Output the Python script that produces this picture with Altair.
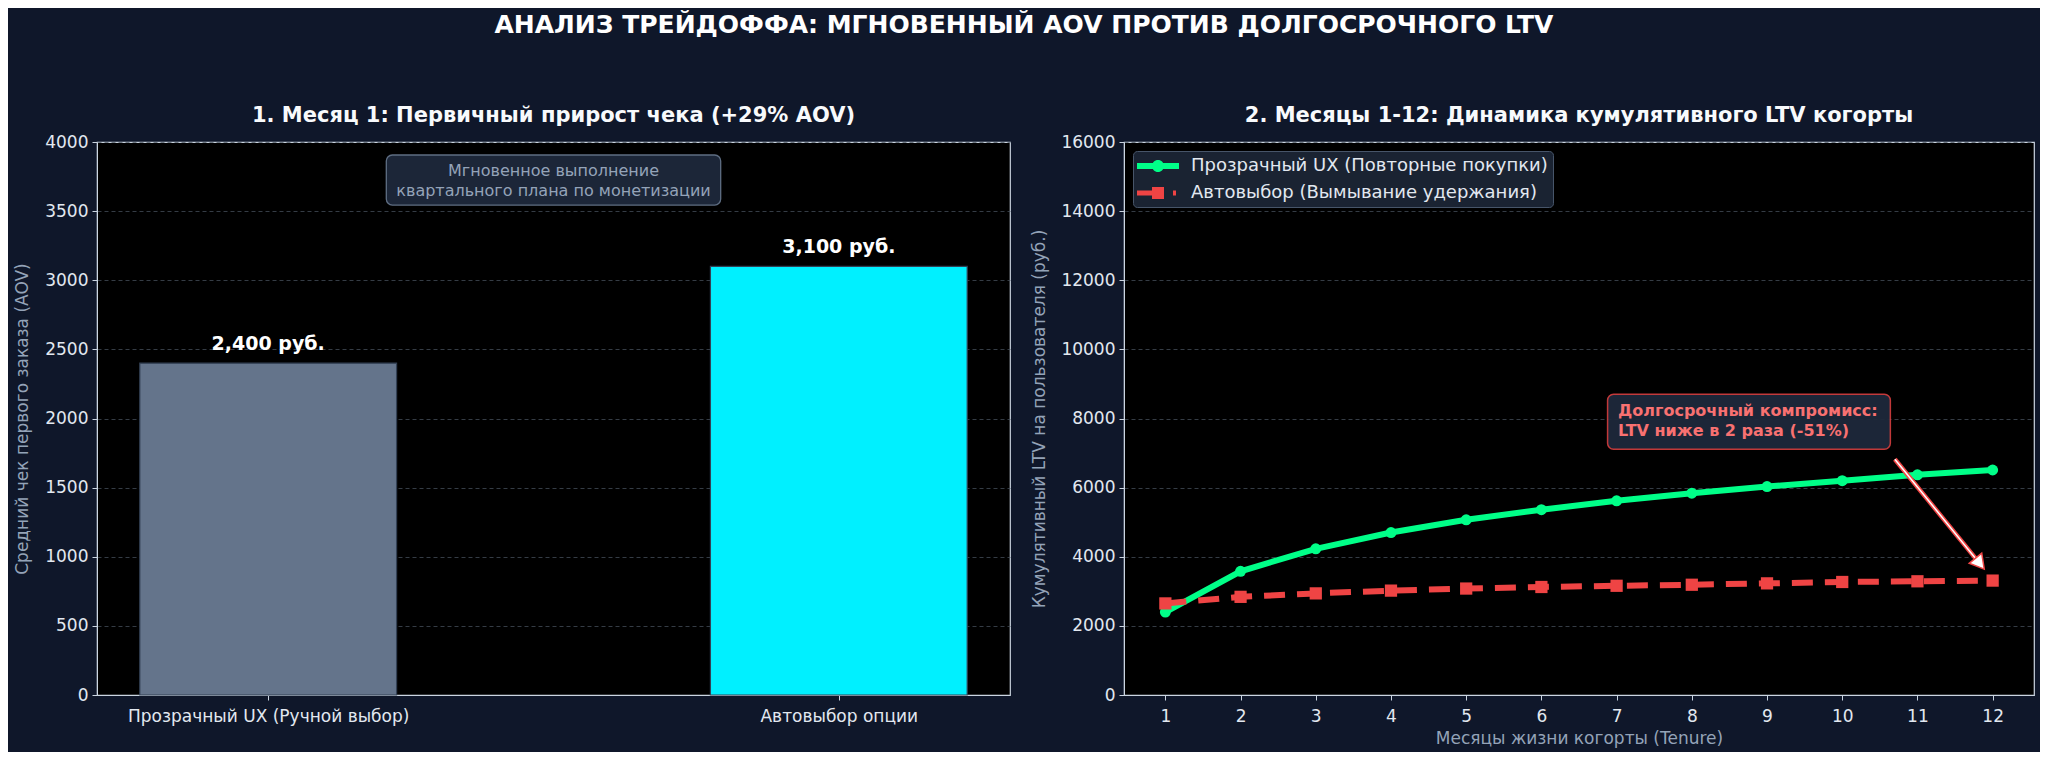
import json
import altair as alt
import pandas as pd

# ---------------- data ----------------
categories = ["Прозрачный UX (Ручной выбор)", "Автовыбор опции"]
aov_values = [2400, 3100]
aov_labels = ["2,400 руб.", "3,100 руб."]

months = list(range(1, 13))
series_names = ["Прозрачный UX (Повторные покупки)", "Автовыбор (Вымывание удержания)"]
ltv_transparent = [2400, 3580, 4230, 4700, 5070, 5360, 5620, 5840, 6030, 6200, 6370, 6510]
ltv_auto = [2650, 2840, 2940, 3020, 3080, 3125, 3160, 3190, 3230, 3270, 3290, 3310]

left_note = "Мгновенное выполнение\nквартального плана по монетизации"
right_note = "Долгосрочный компромисс:\nLTV ниже в 2 раза (-51%)"

main_title = "АНАЛИЗ ТРЕЙДОФФА: МГНОВЕННЫЙ AOV ПРОТИВ ДОЛГОСРОЧНОГО LTV"
left_title = "1. Месяц 1: Первичный прирост чека (+29% AOV)"
right_title = "2. Месяцы 1-12: Динамика кумулятивного LTV когорты"

# ---------------- styles ----------------
FONT = "DejaVu Sans"
BG = "#0f172a"
GREEN = "#00ff88"
RED = "#ef4444"
BAR_COLORS = ["#64748b", "#00f0ff"]

bar_df = pd.DataFrame({"category": categories, "aov": aov_values,
                       "label": aov_labels, "idx": [0, 1]})

ltv_df = pd.DataFrame({
    "month": months * 2,
    "ltv": ltv_transparent + ltv_auto,
    "series": [series_names[0]] * len(months) + [series_names[1]] * len(months),
})

# ---------------- left panel ----------------
x_left = alt.Scale(domain=[-0.3, 1.3], nice=False, zero=False)
y_left = alt.Scale(domain=[0, 4000], nice=False)
yl_title = "Средний чек первого заказа (AOV)"

bars = alt.Chart(bar_df).transform_calculate(
    x0="datum.idx - 0.225", x1="datum.idx + 0.225"
).mark_bar(stroke="#334155", strokeWidth=1.2, opacity=1).encode(
    x=alt.X("x0:Q", scale=x_left, title=None,
            axis=alt.Axis(values=[0, 1], grid=False, labelLimit=600, labelPadding=8,
                          labelExpr=f"{json.dumps(categories, ensure_ascii=False)}[datum.value]")),
    x2="x1:Q",
    y=alt.Y("aov:Q", scale=y_left, title=yl_title,
            axis=alt.Axis(values=list(range(0, 4001, 500)), format="d", titlePadding=13)),
    y2=alt.datum(0),
    color=alt.Color("category:N", scale=alt.Scale(domain=categories, range=BAR_COLORS), legend=None),
)

bar_text = alt.Chart(bar_df).mark_text(
    font=FONT, fontSize=19, fontWeight="bold", color="white", baseline="alphabetic", dy=-13
).encode(
    x=alt.X("idx:Q", scale=x_left, title=None),
    y=alt.Y("aov:Q", scale=y_left, title=yl_title),
    text="label:N",
)

note_l = pd.DataFrame({"x0": [0.207], "x1": [0.793], "y0": [3544], "y1": [3906],
                       "tx": [0.5], "ty": [3790], "text": [left_note]})
note_box_l = alt.Chart(note_l).mark_rect(
    fill="#1e293b", stroke="#64748b", strokeWidth=1.3, cornerRadius=6, opacity=0.95
).encode(
    x=alt.X("x0:Q", scale=x_left, title=None), x2="x1:Q",
    y=alt.Y("y0:Q", scale=y_left, title=yl_title), y2="y1:Q",
)
note_text_l = alt.Chart(note_l).mark_text(
    font=FONT, fontSize=16, color="#94a3b8", align="center", baseline="middle",
    lineBreak="\n", lineHeight=20
).encode(
    x=alt.X("tx:Q", scale=x_left, title=None),
    y=alt.Y("ty:Q", scale=y_left, title=yl_title),
    text="text:N",
)

left = alt.layer(bars, bar_text, note_box_l, note_text_l).properties(
    width=913, height=553,
    title=alt.TitleParams(left_title, font=FONT, fontSize=21, fontWeight="bold",
                          color="#f8fafc", anchor="middle", frame="group", offset=7),
)

# ---------------- right panel ----------------
x_right = alt.Scale(domain=[0.45, 12.55], nice=False, zero=False)
y_right = alt.Scale(domain=[0, 16000], nice=False)
x_title = "Месяцы жизни когорты (Tenure)"
y_title = "Кумулятивный LTV на пользователя (руб.)"

# legend symbols: line + marker glyphs
green_path = "M-2.1,-0.3H2.1V0.3H-2.1Z M0.6,0A0.6,0.6,0,1,1,-0.6,0A0.6,0.6,0,1,1,0.6,0Z"
red_path = "M-2.1,-0.25H-0.6V0.25H-2.1Z M-0.6,-0.6H0.6V0.6H-0.6Z M1.5,-0.25H1.8V0.25H1.5Z"

legend = alt.Legend(
    title=None, orient="top-left", offset=9, padding=5, symbolOffset=10,
    symbolSize=400, labelOffset=23, rowPadding=8, labelLimit=600,
    labelFont=FONT, labelFontSize=18, labelColor="#e2e8f0",
    fillColor="rgba(30,41,59,0.85)", strokeColor="#475569", cornerRadius=4,
    symbolStrokeWidth=0, symbolOpacity=1,
)

x_enc = alt.X("month:Q", scale=x_right, title=x_title,
              axis=alt.Axis(values=months, grid=False, format="d", titlePadding=6, labelPadding=8))
y_enc = alt.Y("ltv:Q", scale=y_right, title=y_title,
              axis=alt.Axis(values=list(range(0, 16001, 2000)), format="d", titlePadding=12))
x_plain = alt.X("month:Q", scale=x_right, title=x_title)
y_plain = alt.Y("ltv:Q", scale=y_right, title=y_title)

base_g = alt.Chart(ltv_df).transform_filter(alt.datum.series == series_names[0])
base_r = alt.Chart(ltv_df).transform_filter(alt.datum.series == series_names[1])

line_g = base_g.mark_line(strokeWidth=6, color=GREEN).encode(x=x_enc, y=y_enc)
line_r = base_r.mark_line(strokeWidth=6, color=RED, strokeDash=[21, 12]).encode(x=x_plain, y=y_plain)
pts_g = base_g.mark_point(filled=True, opacity=1, size=120, shape="circle", color=GREEN).encode(
    x=x_plain, y=y_plain)
pts_r = base_r.mark_point(filled=True, opacity=1, size=150, shape="square", color=RED).encode(
    x=x_plain, y=y_plain)

legend_layer = alt.Chart(ltv_df).transform_filter("false").mark_point(
    filled=True, opacity=1, size=400
).encode(
    x=x_plain, y=y_plain,
    color=alt.Color("series:N", scale=alt.Scale(domain=series_names, range=[GREEN, RED]), legend=legend),
    shape=alt.Shape("series:N", scale=alt.Scale(domain=series_names, range=[green_path, red_path]),
                    legend=legend),
)

note_r = pd.DataFrame({"x0": [6.88], "x1": [10.64], "y0": [7110], "y1": [8700],
                       "tx": [7.02], "ty": [8210], "text": [right_note]})
note_box_r = alt.Chart(note_r).mark_rect(
    fill="#1e293b", stroke=RED, strokeWidth=1.5, cornerRadius=6, opacity=0.95, strokeOpacity=0.85
).encode(
    x=alt.X("x0:Q", scale=x_right, title=x_title), x2="x1:Q",
    y=alt.Y("y0:Q", scale=y_right, title=y_title), y2="y1:Q",
)
note_text_r = alt.Chart(note_r).mark_text(
    font=FONT, fontSize=16, fontWeight="bold", color="#f87171", align="left", baseline="middle",
    lineBreak="\n", lineHeight=20
).encode(
    x=alt.X("tx:Q", scale=x_right, title=x_title),
    y=alt.Y("ty:Q", scale=y_right, title=y_title),
    text="text:N",
)

arrow = pd.DataFrame({"x": [10.7], "y": [6820], "x2": [11.83], "y2": [3800]})
arrow_outer = alt.Chart(arrow).mark_rule(color=RED, strokeWidth=4.5).encode(
    x=alt.X("x:Q", scale=x_right, title=x_title), x2="x2:Q",
    y=alt.Y("y:Q", scale=y_right, title=y_title), y2="y2:Q",
)
arrow_inner = alt.Chart(arrow).mark_rule(color="white", strokeWidth=1.5).encode(
    x=alt.X("x:Q", scale=x_right, title=x_title), x2="x2:Q",
    y=alt.Y("y:Q", scale=y_right, title=y_title), y2="y2:Q",
)
arrow_head = alt.Chart(arrow).mark_point(
    shape="triangle-up", filled=True, fill="white", stroke=RED, strokeWidth=1.5,
    size=260, angle=141, opacity=1
).encode(
    x=alt.X("x2:Q", scale=x_right, title=x_title),
    y=alt.Y("y2:Q", scale=y_right, title=y_title),
)

right = alt.layer(line_g, line_r, pts_g, pts_r, legend_layer, note_box_r, note_text_r,
                  arrow_outer, arrow_inner, arrow_head).properties(
    width=910, height=553,
    title=alt.TitleParams(right_title, font=FONT, fontSize=21, fontWeight="bold",
                          color="#f8fafc", anchor="middle", frame="group", offset=7),
)

chart = alt.hconcat(left, right, spacing=19).properties(
    title=alt.TitleParams(main_title, font=FONT, fontSize=25, fontWeight="bold",
                          color="white", anchor="middle", offset=66),
).configure(background=BG, font=FONT).configure_view(
    fill="#000000", stroke="#cbd5e1", strokeWidth=1.2
).configure_axis(
    labelFont=FONT, labelFontSize=17, labelColor="#e2e8f0",
    titleFont=FONT, titleFontSize=17, titleFontWeight="normal", titleColor="#94a3b8",
    domainColor="#cbd5e1", tickColor="#cbd5e1", tickSize=5, labelPadding=4,
    gridColor="#4b5563", gridOpacity=0.7, gridDash=[4, 3], gridWidth=1,
).resolve_scale(color="independent", shape="independent").resolve_legend(
    color="independent", shape="independent")

chart.save("out.html", embed_options={"renderer": "svg", "actions": False})
